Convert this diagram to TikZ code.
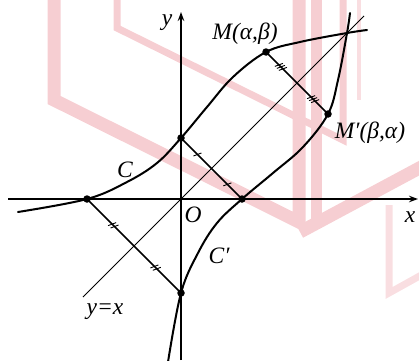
\documentclass[tikz,border=0pt]{standalone}
\usepackage{fontspec}
\setmainfont{Liberation Serif}
\usetikzlibrary{arrows.meta,calc}
\definecolor{wm}{RGB}{246,206,210}
\definecolor{wmlight}{RGB}{249,222,225}
\begin{document}
\begin{tikzpicture}[x=1pt,y=1pt,
  axis/.style={line width=1.6pt,-{Stealth[length=9pt,width=6.5pt]}},
  curve/.style={line width=2pt,line cap=round,line join=round},
  chord/.style={line width=1.5pt},
  diag/.style={line width=0.9pt},
  tickline/.style={line width=0.9pt},
  dot/.style={circle,fill=black,inner sep=0pt,minimum size=7.5pt},
  lbl/.style={font=\fontsize{23.5}{28}\selectfont\itshape,inner sep=0pt},
  wmline/.style={draw=wm,line join=miter},
  wmthin/.style={draw=wmlight,line join=miter},
  tkone/.pic={\draw[tickline] (-4,-1.5) -- (4,1.5);},
  tktwo/.pic={\draw[tickline] (-5.2,-0.3) -- (2.8,2.7) (-2.8,-2.7) -- (5.2,0.3);},
  tkthree/.pic={\draw[tickline] (-6,0.5) -- (2,3.5) (-4,-1.5) -- (4,1.5) (-2,-3.5) -- (6,-0.5);}
]
\useasboundingbox (0,0) rectangle (419,360);
% watermark (image coordinates, y downwards)
\begin{scope}
\clip (0,0) rectangle (419,360);
\begin{scope}[yshift=360pt,y=-1pt]
  \draw[wmline,line width=13pt] (54,-10) -- (54,100) -- (299,222) -- (299,-10);
  \draw[wmline,line width=11pt] (316,-10) -- (316,228);
  \draw[wmline,line width=13pt] (300,232) -- (425,165);
  \draw[wmline,line width=7pt] (117,-10) -- (117,28) -- (343,140) -- (343,-10);
  \draw[wmthin,line width=4pt] (359,-10) -- (359,100);
  \draw[wmthin,line width=7pt] (389,205) -- (389,293) -- (425,273);
\end{scope}
\end{scope}
\begin{scope}[shift={(181,161)}]
  % key points
  \coordinate (O) at (0,0);
  \coordinate (A) at (0,61);
  \coordinate (Ap) at (61,0);
  \coordinate (B) at (-94,0);
  \coordinate (Bp) at (0,-94);
  \coordinate (M) at (85,147);
  \coordinate (Mp) at (147,85);
  \coordinate (xs) at (-173,0);
  \coordinate (xe) at (237,0);
  \coordinate (ys) at (0,-161);
  \coordinate (ye) at (0,187);
  \coordinate (ds) at (-98,-98);
  \coordinate (de) at (183,183);
  % axes
  \draw[axis] (xs) -- (xe);
  \draw[axis] (ys) -- (ye);
  % y = x
  \draw[diag] (ds) -- (de);
  % chords
  \draw[chord] (M) -- (Mp);
  \draw[chord] (A) -- (Ap);
  \draw[chord] (B) -- (Bp);
  % curves
  \draw[curve] plot[smooth,tension=0.6] coordinates {(-163,-13) (-94,0) (-54,17) (-24,36) (0,61) (26,92) (52,122) (85,147) (119,157) (166,166) (186,169)};
  \draw[curve] plot[smooth,tension=0.6] coordinates {(-13,-163) (0,-94) (17,-54) (36,-24) (61,0) (92,26) (122,52) (147,85) (157,119) (166,166) (169,186)};
  % ticks
  \pic at ($(M)!0.24!(Mp)$) {tkthree};
  \pic at ($(M)!0.76!(Mp)$) {tkthree};
  \pic at ($(A)!0.27!(Ap)$) {tkone};
  \pic at ($(A)!0.76!(Ap)$) {tkone};
  \pic at ($(B)!0.28!(Bp)$) {tktwo};
  \pic at ($(B)!0.73!(Bp)$) {tktwo};
  % dots
  \node[dot] (dA) at (A) {};
  \node[dot] (dAp) at (Ap) {};
  \node[dot] (dB) at (B) {};
  \node[dot] (dBp) at (Bp) {};
  \node[dot] (dM) at (M) {};
  \node[dot] (dMp) at (Mp) {};
  % labels
  \node[lbl] (ly) at (-14,176) {y};
  \node[lbl] (lx) at (229,-18) {x};
  \node[lbl] (lO) at (12,-16) {O};
  \node[lbl] (lC) at (-56,29) {C};
  \node[lbl] (lCp) at (38,-57) {C′};
  \node[lbl] (lyx) at (-76,-113) {y=x};
  \node[lbl] (lM) at (64,165) {M(α,β)};
  \node[lbl] (lMp) at (189,66) {M′(β,α)};
\end{scope}
\end{tikzpicture}
\end{document}
